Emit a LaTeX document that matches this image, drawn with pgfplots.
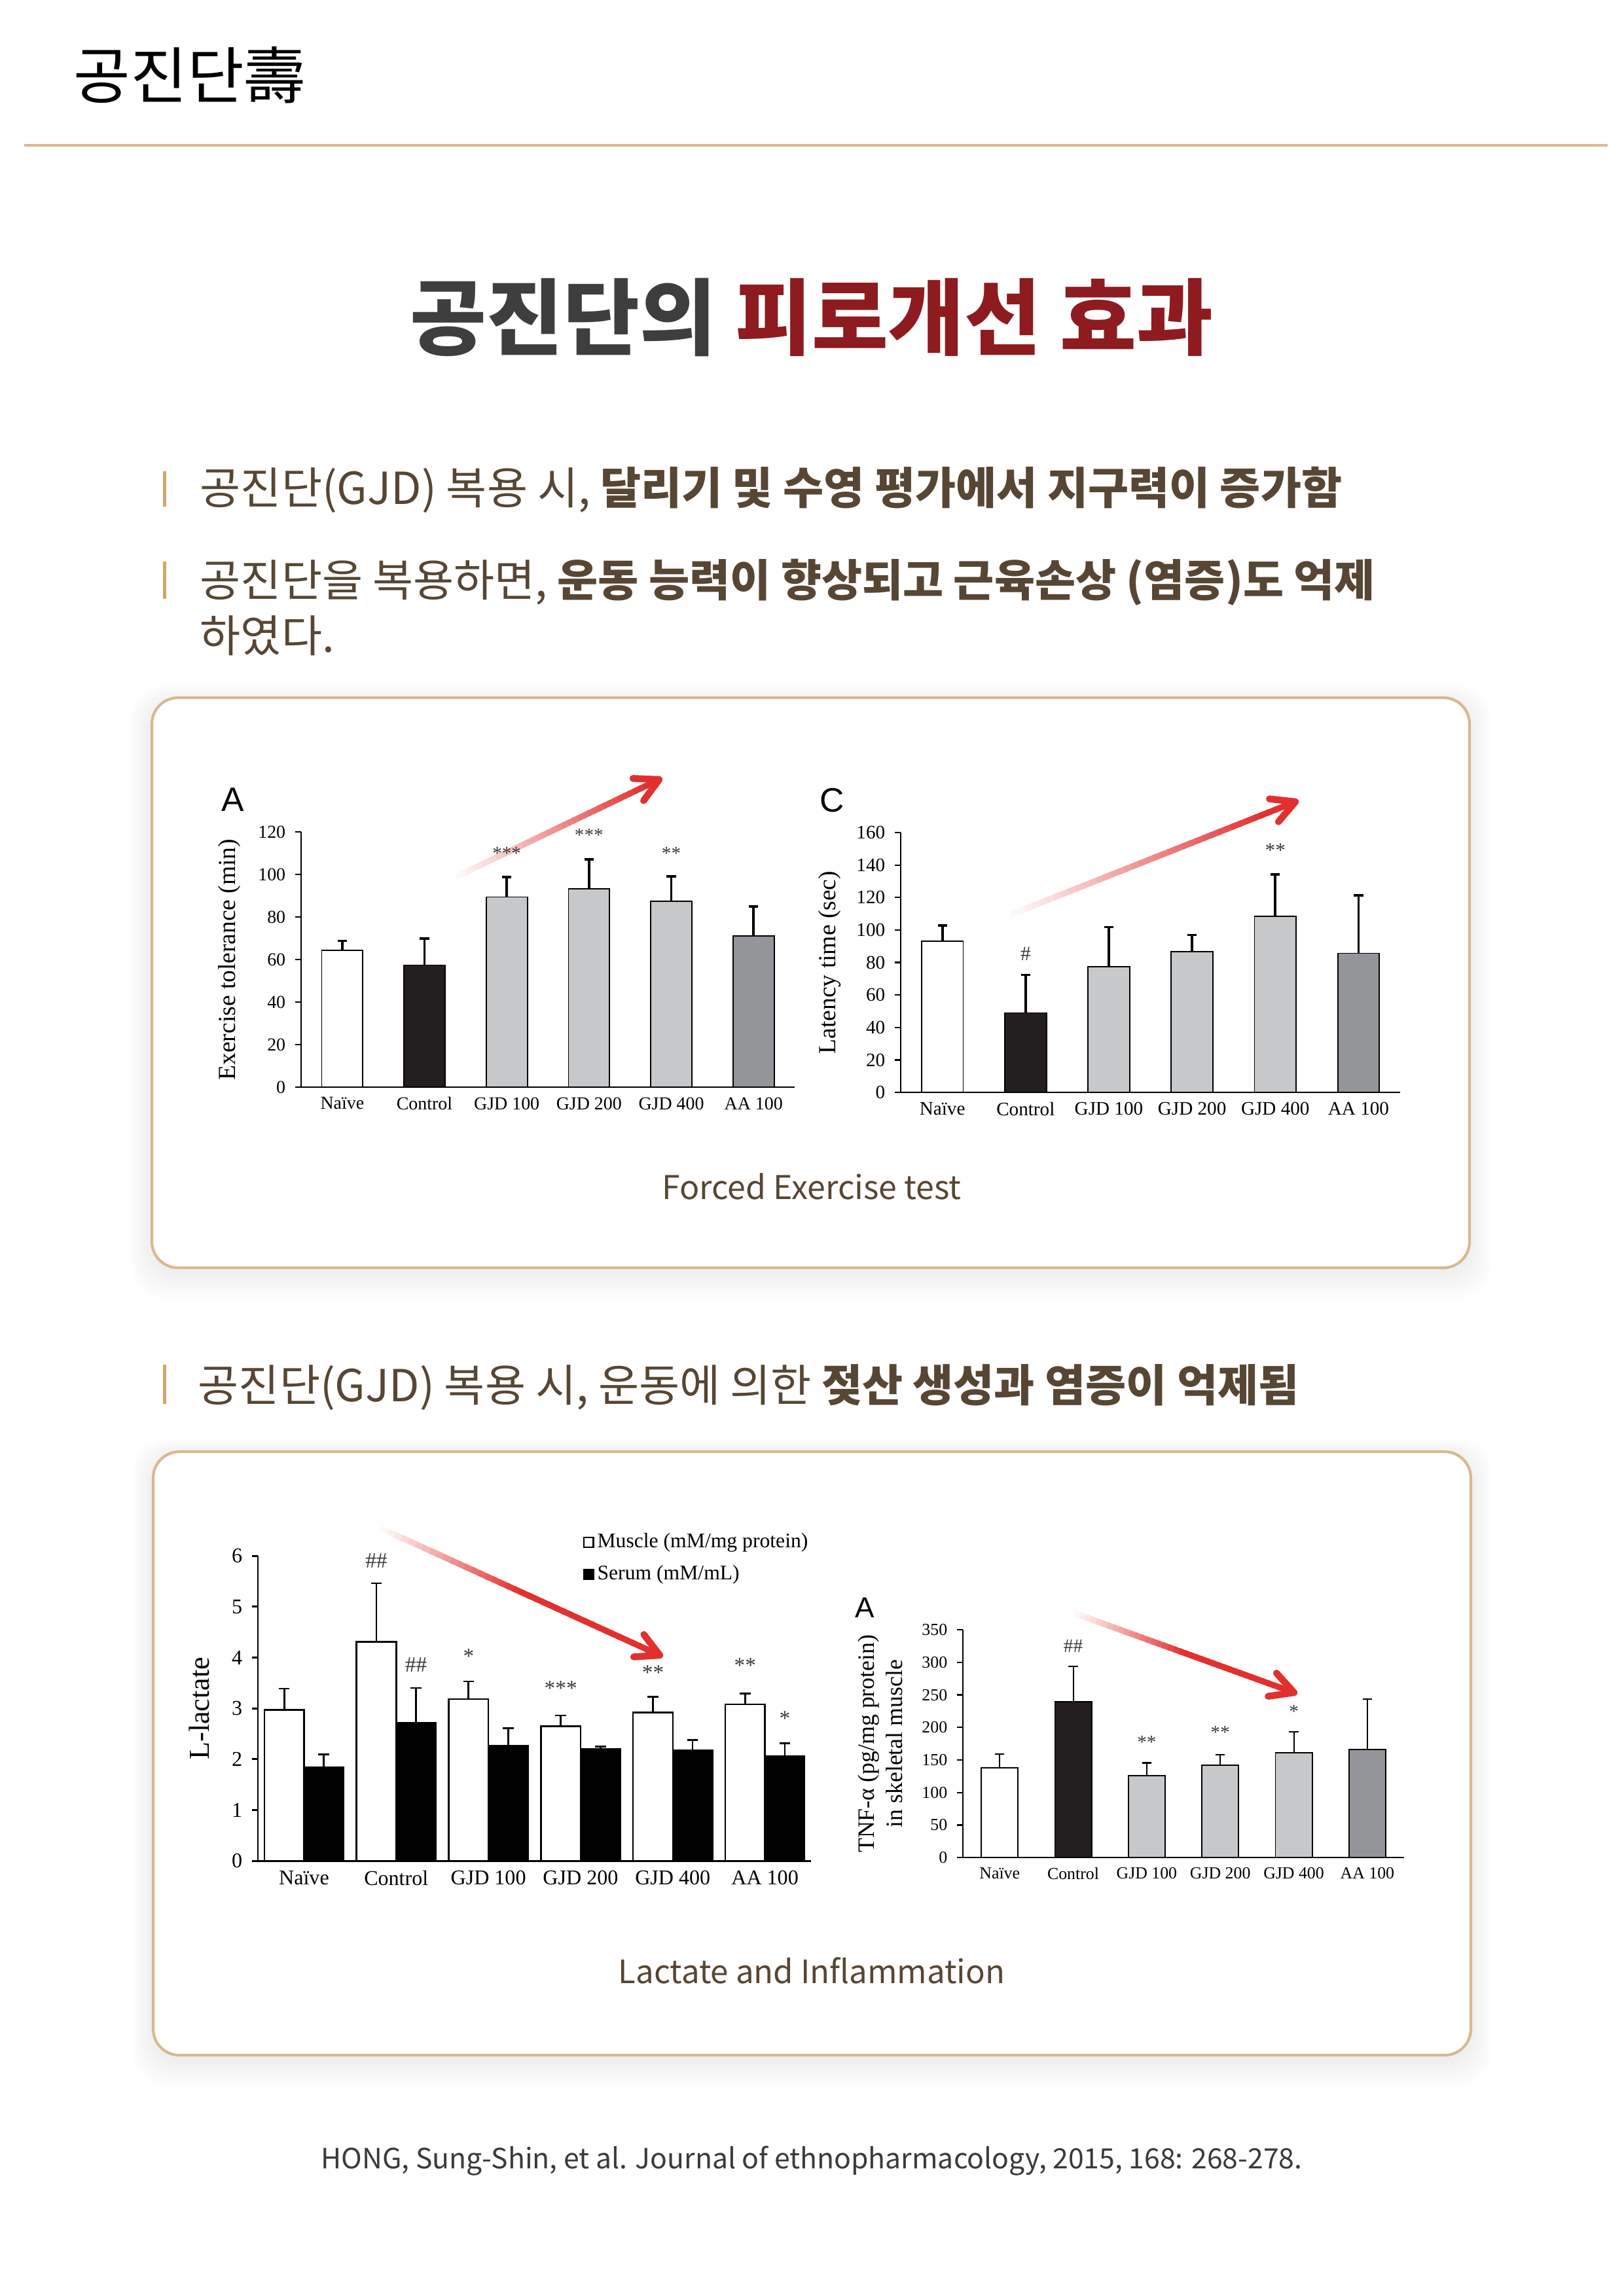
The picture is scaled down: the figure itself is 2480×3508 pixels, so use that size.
\documentclass[border=0pt]{standalone}
\usepackage{fontspec}
\usepackage{pgfplots}
\pgfplotsset{compat=1.18}
\usetikzlibrary{arrows.meta}
\setmainfont{Liberation Serif}
\newfontfamily\kr{Noto Sans CJK KR}
\newfontfamily\lsans{Liberation Sans}
\newcommand{\fs}[2][1.2]{\fontsize{#2bp}{#1\dimexpr #2bp\relax}\selectfont}

\definecolor{tanline}{HTML}{D8B98F}
\definecolor{txtbrown}{HTML}{574634}
\definecolor{bulletc}{HTML}{D2A56B}
\definecolor{titlegray}{HTML}{3E3E3E}
\definecolor{titlered}{HTML}{8E1B1F}
\definecolor{barblack}{HTML}{231F20}
\definecolor{barlight}{HTML}{C7C8CA}
\definecolor{bardark}{HTML}{939598}
\definecolor{arrowred}{HTML}{E2302F}
\definecolor{star}{HTML}{3A3A3A}
\definecolor{cite}{HTML}{3A3A3A}

\pgfplotsset{
  gjd/.style={
    scale only axis, clip=false,
    axis lines*=left,
    axis line style={line width=#1, black},
    xmin=-0.5, xmax=5.5, ymin=0,
    xtick={0,...,5},
    xticklabels={Naïve,Control,GJD 100,GJD 200,GJD 400,AA 100},
    x tick style={draw=none},
    xticklabel style={yshift=2bp},
    y tick style={line width=#1, black},
    tick align=outside,
    major tick length=2.2bp,
    /pgf/number format/assume math mode=true,
    error bars/y dir=plus,
    error bars/y explicit,
  },
  mybar/.style={ybar, bar width=0.5, draw=black, line width=0.45bp, fill=#1},
  stars/.style={draw=none, nodes near coords, point meta=explicit symbolic,
    nodes near coords style={anchor=center, font=\fs{#1}, text=star, inner sep=0pt}},
}

% shaft fades from white to red, open head at the end
\newcommand{\gradarrow}[5]{%
  \pgfmathsetmacro{\dx}{(#3-#1)/40}\pgfmathsetmacro{\dy}{(#4-#2)/40}%
  \foreach \i in {0,...,39}{%
    \pgfmathsetmacro{\xa}{#1+\dx*\i}\pgfmathsetmacro{\ya}{#2+\dy*\i}%
    \pgfmathsetmacro{\xb}{#1+\dx*min(40,\i+1.5)}\pgfmathsetmacro{\yb}{#2+\dy*min(40,\i+1.5)}%
    \pgfmathtruncatemacro{\pc}{min(100,3+\i*2.5/#5)}%
    \draw[line width=2.2bp, color=arrowred!\pc!white] (\xa,\ya) -- (\xb,\yb);
  }%
  \pgfmathsetmacro{\ang}{atan2(\dy,\dx)}%
  \draw[arrowred, line width=2.5bp, line cap=round, line join=round]
    (#3,#4) ++({\ang+152}:40) -- (#3,#4) -- ++({\ang-152}:40);
}

\newcommand{\card}[4]{%
  \foreach \k in {1,...,8}{%
    \fill[black, opacity=0.006, rounded corners=12bp]
      (#1-\k*4,#2-\k*3+6) rectangle (#3+\k*4,#4+\k*5+6);
  }%
  \draw[tanline, line width=1bp, fill=white, rounded corners=9.6bp] (#1,#2) rectangle (#3,#4);
}

\begin{document}
\begin{tikzpicture}
\begin{scope}[x=0.24bp, y=-0.24bp]
  \path[fill=white, use as bounding box] (0,0) rectangle (2480,3508);
  % header
  \node[anchor=base west, inner sep=0pt, font=\kr\fs{22.6}] at (112,150) {공진단壽};
  \draw[tanline, line width=1bp] (37,222) -- (2456,222);
  \node[anchor=base, inner sep=0pt, font=\kr\bfseries\fs{30.5}] at (1240,532)
    {\textcolor{titlegray}{공진단의} \textcolor{titlered}{피로개선 효과}};
  % bullets
  \fill[bulletc] (249,720) rectangle (254,774);
  \node[anchor=base west, inner sep=0pt, font=\kr\fs{16.2}, text=txtbrown] at (305,770)
    {공진단(GJD) 복용 시, {\bfseries 달리기 및 수영 평가에서 지구력이 증가함}};
  \fill[bulletc] (249,858) rectangle (254,915);
  \node[anchor=base west, inner sep=0pt, font=\kr\fs{16.2}, text=txtbrown] at (305,911)
    {공진단을 복용하면, {\bfseries 운동 능력이 향상되고 근육손상 (염증)도 억제}};
  \node[anchor=base west, inner sep=0pt, font=\kr\fs{16.2}, text=txtbrown] at (305,996)
    {하였다.};
  \fill[bulletc] (249,2085) rectangle (254,2145);
  \node[anchor=base west, inner sep=0pt, font=\kr\fs{16.2}, text=txtbrown] at (302,2141)
    {공진단(GJD) 복용 시, 운동에 의한 {\bfseries 젖산 생성과 염증이 억제됨}};
  % cards
  \card{232}{1066}{2245}{1937}
  \card{234}{2218}{2247}{3140}
  \node[anchor=base, inner sep=0pt, font=\kr\fs{12}, text=txtbrown] at (1240,1832) {Forced Exercise test};
  \node[anchor=base, inner sep=0pt, font=\kr\fs{11.8}, text=txtbrown] at (1240,3030) {Lactate and Inflammation};
  \node[anchor=base, inner sep=0pt, font=\kr\fs{10.25}, text=cite] at (1240,3313)
    {HONG, Sung-Shin, et al. Journal of ethnopharmacology, 2015, 168: 268-278.};
  % panel letters
  \node[anchor=base west, inner sep=0pt, font=\lsans\fs{12.4}] at (338,1239) {A};
  \node[anchor=base west, inner sep=0pt, font=\lsans\fs{12.4}] at (1252,1240) {C};
  \node[anchor=base west, inner sep=0pt, font=\lsans\fs{10.6}] at (1306,2471) {A};
  % trend arrows (under the plots, so the stars stay on top)
  \gradarrow{696}{1340}{1007}{1191}{0.95}
  \gradarrow{1545}{1397}{1979}{1225}{0.9}
  \gradarrow{582}{2335}{1008}{2529}{0.5}
  \gradarrow{1642}{2465}{1977}{2586}{0.5}
\end{scope}

% A: exercise tolerance
\begin{axis}[gjd=0.55bp, at={(110.4bp,-398.64bp)}, anchor=south west,
  width=180.96bp, height=93.6bp, ymax=120, ytick={0,20,...,120},
  ticklabel style={font=\fs{6.7}},
  ylabel={Exercise tolerance (min)},
  ylabel style={at={(axis description cs:-0.145,0.5)}, anchor=center, font=\fs{9}},
  error bars/error bar style={line width=0.9bp},
  error bars/error mark options={rotate=90, mark size=1.7bp, line width=0.9bp},
]
\addplot[mybar=white] coordinates {(0,64.2) +- (0,4.6)};
\addplot[mybar=barblack] coordinates {(1,57.4) +- (0,12.4)};
\addplot[mybar=barlight] coordinates {(2,89.4) +- (0,9.3) (3,93.3) +- (0,13.7) (4,87.3) +- (0,11.8)};
\addplot[mybar=bardark] coordinates {(5,71.2) +- (0,13.7)};
\addplot[stars=7] coordinates {(2,110)[***] (3,118.5)[***] (4,110)[**]};
\end{axis}

% C: latency time
\begin{axis}[gjd=0.55bp, at={(330.24bp,-400.56bp)}, anchor=south west,
  width=183.12bp, height=95.28bp, ymax=160, ytick={0,20,...,160},
  ticklabel style={font=\fs{7}},
  ylabel={Latency time (sec)},
  ylabel style={at={(axis description cs:-0.1416,0.5)}, anchor=center, font=\fs{9}},
  error bars/error bar style={line width=0.9bp},
  error bars/error mark options={rotate=90, mark size=1.7bp, line width=0.9bp},
]
\addplot[mybar=white] coordinates {(0,93.3) +- (0,9.6)};
\addplot[mybar=barblack] coordinates {(1,49.0) +- (0,23.4)};
\addplot[mybar=barlight] coordinates {(2,77.4) +- (0,24.4) (3,86.8) +- (0,10.2) (4,108.5) +- (0,25.8)};
\addplot[mybar=bardark] coordinates {(5,85.7) +- (0,35.5)};
\addplot[stars=7.5] coordinates {(1,85.4)[\#] (4,149)[**]};
\end{axis}

% L-lactate
\begin{axis}[gjd=0.7bp, at={(94.56bp,-682.32bp)}, anchor=south west,
  width=202.8bp, height=111.84bp, ymax=6, ytick={0,1,...,6},
  ticklabel style={font=\fs{7.7}},
  ylabel={L-lactate},
  ylabel style={at={(axis description cs:-0.1065,0.5)}, anchor=center, font=\fs{10.6}},
  error bars/error bar style={line width=0.65bp},
  error bars/error mark options={rotate=90, mark size=2bp, line width=0.65bp},
  legend image code/.code={\draw[#1,/tikz/.cd,line width=0.5bp,draw=black] (0bp,-1.75bp) rectangle (3.5bp,1.75bp);},
  legend style={at={(axis description cs:0.587,1.085)}, anchor=north west, draw=none, fill=none,
    font=\fs{7.6}, inner sep=0pt, row sep=3bp, nodes={inner xsep=1.2bp, inner ysep=1bp}},
  legend cell align=left,
]
\addplot[mybar=white, bar width=0.43, line width=0.6bp] coordinates {(-0.215,2.97) +- (0,0.42) (0.785,4.31) +- (0,1.15) (1.785,3.18) +- (0,0.35) (2.785,2.65) +- (0,0.21) (3.785,2.92) +- (0,0.31) (4.785,3.08) +- (0,0.21)};
\addlegendentry{Muscle (mM/mg protein)}
\addplot[mybar=black, bar width=0.43, line width=0.6bp] coordinates {(0.215,1.84) +- (0,0.25) (1.215,2.71) +- (0,0.69) (2.215,2.26) +- (0,0.35) (3.215,2.20) +- (0,0.05) (4.215,2.17) +- (0,0.21) (5.215,2.06) +- (0,0.25)};
\addlegendentry{Serum (mM/mL)}
\addplot[stars=8] coordinates {(0.785,5.91)[\#\#] (1.215,3.86)[\#\#] (1.785,4.02)[*] (2.785,3.40)[***] (3.785,3.70)[**] (4.785,3.84)[**] (5.215,2.80)[*]};
\end{axis}

% TNF-alpha
\begin{axis}[gjd=0.55bp, at={(353.04bp,-681.12bp)}, anchor=south west,
  width=161.76bp, height=83.52bp, ymax=350, ytick={0,50,...,350},
  ticklabel style={font=\fs{6.2}},
  ylabel={TNF-α (pg/mg protein)\\in skeletal muscle},
  ylabel style={at={(axis description cs:-0.1877,0.5)}, anchor=center, align=center, font=\fs{8.6}},
  error bars/error bar style={line width=0.5bp},
  error bars/error mark options={rotate=90, mark size=1.7bp, line width=0.5bp},
]
\addplot[mybar=white] coordinates {(0,137.8) +- (0,21.7)};
\addplot[mybar=barblack] coordinates {(1,239.9) +- (0,54.1)};
\addplot[mybar=barlight] coordinates {(2,125.5) +- (0,20.0) (3,141.8) +- (0,16.7) (4,161.5) +- (0,31.7)};
\addplot[mybar=bardark] coordinates {(5,165.8) +- (0,77.8)};
\addplot[stars=7] coordinates {(1,325)[\#\#] (2,176.8)[**] (3,191.9)[**] (4,224)[*]};
\end{axis}
\end{tikzpicture}
\end{document}
